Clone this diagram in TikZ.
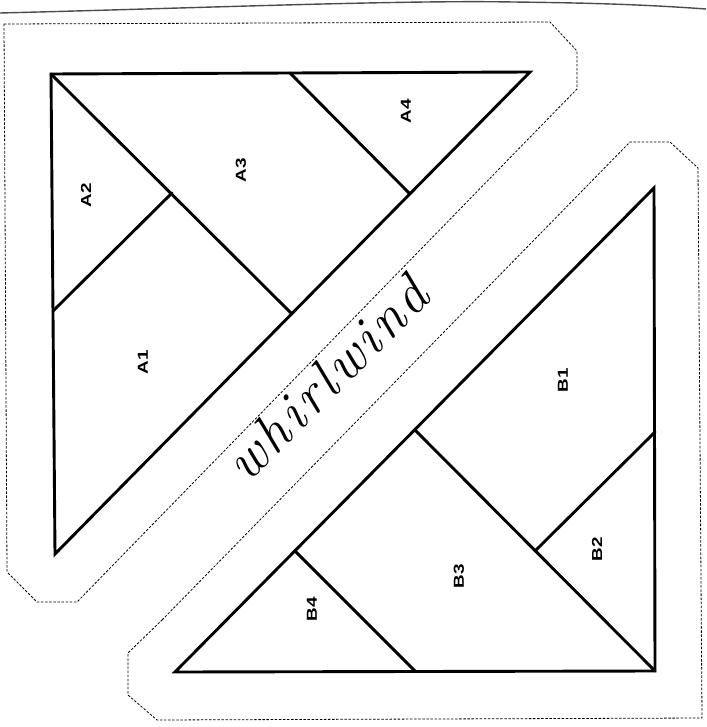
\documentclass[tikz,border=0pt]{standalone}
\usepackage{fontspec}
\newfontfamily\labelfont{Liberation Sans}
\newfontfamily\handfont[LetterSpace=7]{Latin Modern Roman}
\begin{document}
\begin{tikzpicture}[x=1pt,y=-1pt,
  piece/.style={line width=2.9pt,line join=miter,line cap=round},
  cutline/.style={line width=0.8pt,dash pattern=on 2.5pt off 1.6pt},
  scanedge/.style={line width=1.4pt,draw=black!70},
  patchlabel/.style={font=\labelfont\bfseries\fontsize{14.5}{15}\selectfont,rotate=90,xscale=1.3,inner sep=0pt},
  hand/.style={font=\handfont\itshape\fontsize{56}{56}\selectfont,rotate=45,inner sep=0pt,anchor=base}]
\fill[white] (0,0) rectangle (706,727);
\useasboundingbox (0,0) rectangle (706,727);
% scan edge
\draw[scanedge] (0,13) .. controls (200,8) and (400,0) .. (513,2) .. controls (600,3) and (650,5) .. (706,9);
% cutting outlines
\draw[cutline] (4,24) -- (550,22) -- (577,51) -- (577,89) -- (77,602) -- (37,602) -- (7,572) -- cycle;
\draw[cutline] (162,620) -- (630,142) -- (670,142) -- (698,168) -- (702,718) -- (157,720) -- (128,695) -- (128,653) -- cycle;
% triangle A
\coordinate (a1) at (51,74);
\coordinate (a2) at (530,72);
\coordinate (a3) at (55,554);
\coordinate (ad) at (291,313);
\coordinate (am) at (172,193);
\coordinate (al) at (53,311);
\coordinate (at) at (290,73);
\coordinate (ah) at (409,193);
\draw[piece] (a1) -- (a2) -- (a3) -- cycle;
\draw[piece] (a1) -- (ad);
\draw[piece] (am) -- (al);
\draw[piece] (at) -- (ah);
% triangle B
\coordinate (b1) at (654,188);
\coordinate (b2) at (655,671);
\coordinate (b3) at (175,672);
\coordinate (bh) at (415,430);
\coordinate (br) at (655,432);
\coordinate (bm) at (535,551);
\coordinate (bg) at (295,551);
\coordinate (bb) at (415,671);
\draw[piece] (b1) -- (b2) -- (b3) -- cycle;
\draw[piece] (bh) -- (b2);
\draw[piece] (br) -- (bm);
\draw[piece] (bg) -- (bb);
% labels
\node[patchlabel] (lA1) at (143,362) {A1};
\node[patchlabel] (lA2) at (86,195) {A2};
\node[patchlabel] (lA3) at (241,170) {A3};
\node[patchlabel] (lA4) at (406,111) {A4};
\node[patchlabel] (lB1) at (563,380) {B1};
\node[patchlabel] (lB2) at (597,549) {B2};
\node[patchlabel] (lB3) at (459,576) {B3};
\node[patchlabel] (lB4) at (312,609) {B4};
% handwritten name
\node[hand] (name) at (340,392) {whirlwind};
\end{tikzpicture}
\end{document}
